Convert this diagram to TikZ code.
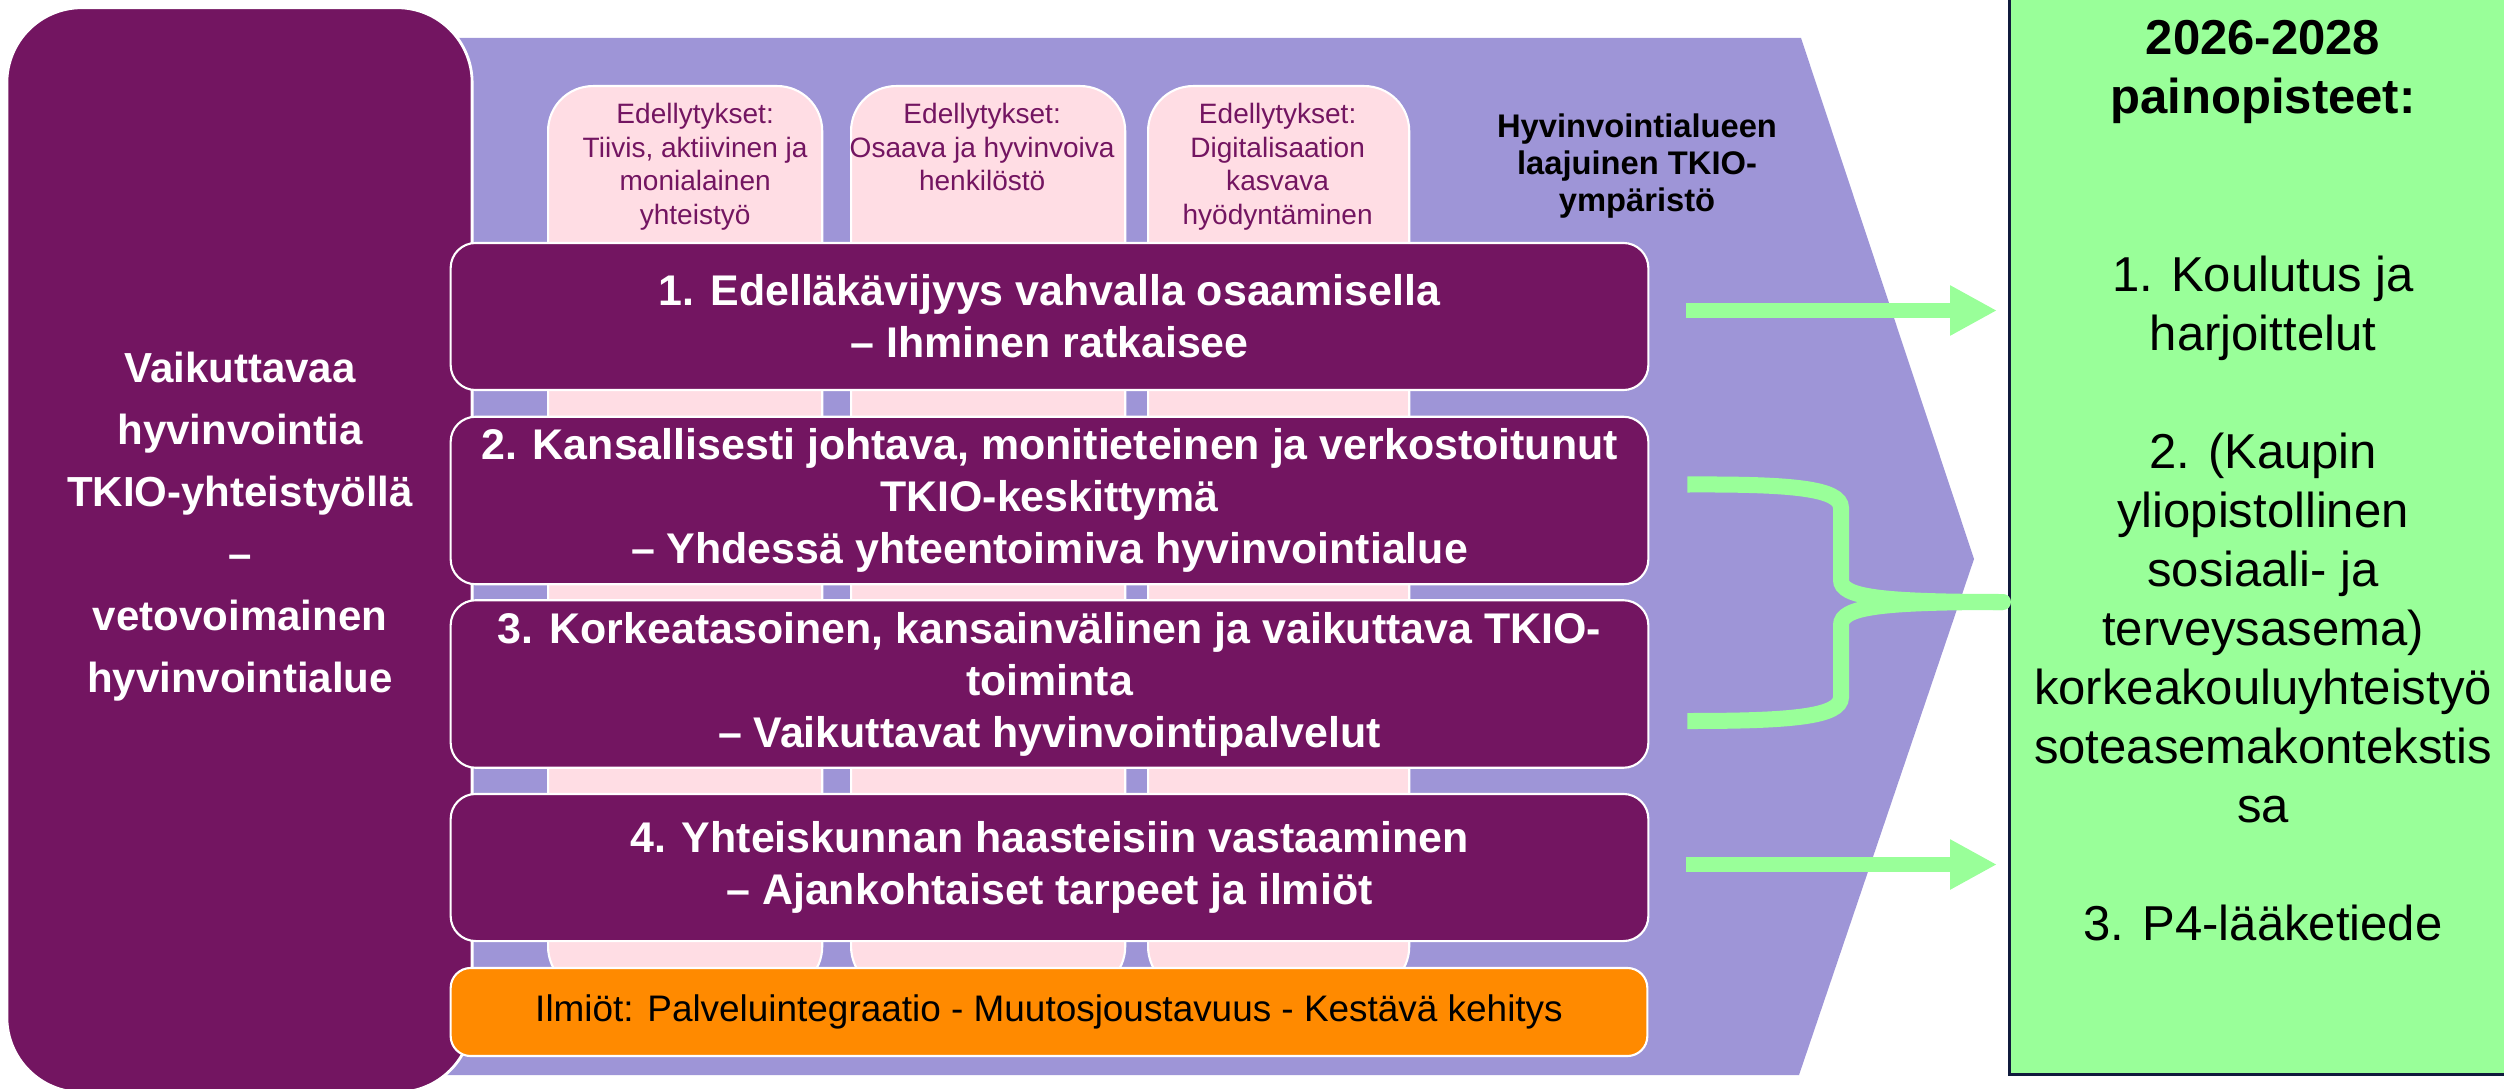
\documentclass[tikz,border=0pt]{standalone}
\usepackage{fontspec}
\setmainfont{Liberation Sans}
\usetikzlibrary{arrows.meta,calc}
\definecolor{tkiopurple}{HTML}{731561}
\definecolor{envlilac}{HTML}{9E95D7}
\definecolor{prepink}{HTML}{FFDDE4}
\definecolor{prigreen}{HTML}{99FF99}
\definecolor{ilmorange}{HTML}{FF8A00}
\definecolor{prinavy}{HTML}{101A3C}
\tikzset{
	rowbox/.style={draw=white, line width=0.6pt, fill=tkiopurple, rounded corners=0.25cm, minimum width=11.97cm, text=white, align=center, font=\bfseries\fontsize{12.2}{14.8}\selectfont},
	prebox/.style={draw=white, line width=0.6pt, fill=prepink, rounded corners=0.45cm, anchor=north west, minimum height=9.05cm},
	pretext/.style={anchor=north, inner sep=0pt, align=center, text=tkiopurple, font=\fontsize{7.97}{9.53}\selectfont},
	greenarrow/.style={prigreen, line width=0.15cm, -{Triangle[length=0.47cm,width=0.47cm]}},
	bracket/.style={prigreen, line width=0.16cm}
}

\begin{document}
\begin{tikzpicture}[x=0.01cm, y=-0.01cm]
	\clip (0,0) rectangle (2504,1088);
	\fill[envlilac] (440,38) -- (1801,38) -- (1974,559) -- (1799,1075) -- (440,1075) -- cycle;
	\node[draw=white, line width=0.8pt, fill=tkiopurple, rounded corners=0.75cm, minimum width=4.65cm, minimum height=10.84cm] (vision) at (239.5,550) {};
	\node[text=white, align=center, font=\bfseries\fontsize{11.95}{17.64}\selectfont] (visiontxt) at (240,527) {Vaikuttavaa\\hyvinvointia\\TKIO-yhteistyöllä\\–\\vetovoimainen\\hyvinvointialue};

	\node[prebox, minimum width=2.74cm] (pre1) at (547,85) {};
	\node[prebox, minimum width=2.74cm] (pre2) at (850,85) {};
	\node[prebox, minimum width=2.61cm] (pre3) at (1147,85) {};
	\node[pretext] (pre1txt) at ($(pre1.north)+(10,17.6)$) {Edellytykset:\\Tiivis, aktiivinen ja\\monialainen\\yhteistyö};
	\node[pretext] (pre2txt) at ($(pre2.north)+(-6,17.6)$) {Edellytykset:\\Osaava ja hyvinvoiva\\henkilöstö};
	\node[pretext] (pre3txt) at ($(pre3.north)+(-1,17.6)$) {Edellytykset:\\Digitalisaation\\kasvava\\hyödyntäminen};
	\node[align=center, font=\bfseries\fontsize{9.3}{10.6}\selectfont] (envtxt) at (1637,166) {Hyvinvointialueen\\laajuinen TKIO-\\ympäristö};

	\node[rowbox, minimum height=1.47cm] (row1) at (1049.5,316.5) {1. Edelläkävijyys vahvalla osaamisella\\– Ihminen ratkaisee};
	\node[rowbox, minimum height=1.49cm] (row2) at (1049.5,500.5) {2. Kansallisesti johtava, monitieteinen ja verkostoitunut\\TKIO-keskittymä\\– Yhdessä yhteentoimiva hyvinvointialue};
	\node[rowbox, minimum height=1.52cm] (row3) at (1049.5,684) {3. Korkeatasoinen, kansainvälinen ja vaikuttava TKIO-\\toiminta\\– Vaikuttavat hyvinvointipalvelut};
	\node[rowbox, minimum height=1.47cm] (row4) at (1049.5,867.5) {4. Yhteiskunnan haasteisiin vastaaminen\\– Ajankohtaiset tarpeet ja ilmiöt};
	\node[draw=white, line width=0.6pt, fill=ilmorange, rounded corners=0.2cm, minimum width=11.96cm, minimum height=0.88cm, font=\fontsize{10.5}{12}\selectfont] (ilmiot) at (1049,1012) {Ilmiöt: Palveluintegraatio - Muutosjoustavuus - Kestävä kehitys};

	\node[draw=prinavy, line width=0.9pt, fill=prigreen, minimum width=5.4cm, minimum height=11.2cm, anchor=south west] (prio) at (2008,1076) {};
	\node[anchor=north, inner sep=0pt, align=center, font=\fontsize{13.94}{16.79}\selectfont] (priotxt) at (2263,20) {\textbf{2026-2028}\\\textbf{painopisteet:}\\[33.6pt]1. Koulutus ja\\harjoittelut\\[16.8pt]2. (Kaupin\\yliopistollinen\\sosiaali- ja\\terveysasema)\\korkeakouluyhteistyö\\soteasemakontekstis\\sa\\[16.8pt]3. P4-lääketiede};

	\draw[greenarrow] ($(row1.east)+(37,-6)$) -- ($(prio.west |- row1.east)+(-11,-6)$);
	\draw[greenarrow] ($(row4.east)+(37,-3)$) -- ($(prio.west |- row4.east)+(-11,-3)$);

	\coordinate (jointop) at ($(row2.east)+(38,-16)$);
	\coordinate (joinbot) at ($(row3.east)+(38,37)$);
	\coordinate (bracetip) at ($(prio.west |- 0,602)+(-5,0)$);
	\draw[bracket] (jointop) .. controls (1790,484) and (1841,488) .. (1841,508) -- (1841,580) .. controls (1841,597) and (1880,602) .. (bracetip);
	\draw[bracket] (joinbot) .. controls (1790,721) and (1841,717) .. (1841,697) -- (1841,625) .. controls (1841,607) and (1880,602) .. (bracetip);
	\fill[prigreen] (bracetip) circle (0.08cm);
\end{tikzpicture}
\end{document}
